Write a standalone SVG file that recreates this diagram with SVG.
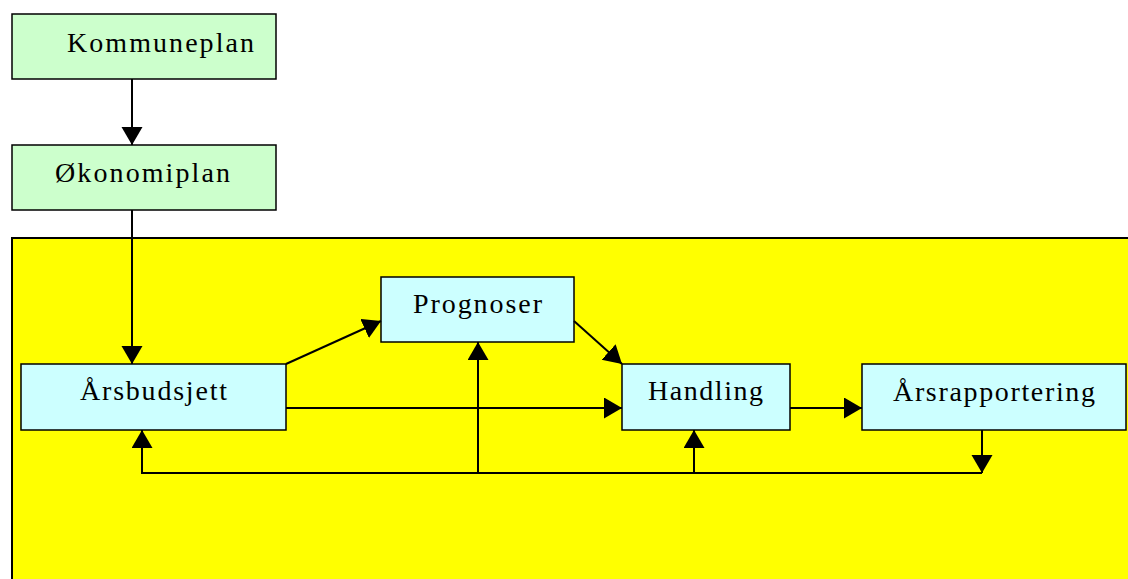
<svg xmlns="http://www.w3.org/2000/svg" width="1128" height="579" viewBox="0 0 1128 579">
  <style>
    .plan { fill: #ccffcc; stroke: #000; stroke-width: 1.5; }
    .step { fill: #ccffff; stroke: #000; stroke-width: 1.5; }
    .label { font-family: "Liberation Serif", "Times New Roman", serif; font-size: 28px; fill: #000; }
    .link { fill: none; stroke: #000; stroke-width: 2; }
  </style>
  <defs>
    <marker id="head" markerUnits="userSpaceOnUse" markerWidth="20" markerHeight="22" refX="18" refY="10.5" orient="auto">
      <path d="M0,0 L18,10.5 L0,21 Z" fill="#000"/>
    </marker>
  </defs>
  <rect x="0" y="0" width="1128" height="579" fill="#fff"/>

  <!-- budget year frame -->
  <rect id="frame" x="12" y="238" width="1130" height="350" fill="#ffff00" stroke="#000" stroke-width="2"/>

  <g id="kommuneplan">
    <rect class="plan" x="12" y="14" width="264" height="65"/>
    <text class="label" x="67" y="52" textLength="187" lengthAdjust="spacing">Kommuneplan</text>
  </g>
  <g id="okonomiplan">
    <rect class="plan" x="12" y="145" width="264" height="65"/>
    <text class="label" x="55" y="182" textLength="175" lengthAdjust="spacing">Økonomiplan</text>
  </g>
  <g id="arsbudsjett">
    <rect class="step" x="21" y="364" width="265" height="66"/>
    <text class="label" x="80" y="400" textLength="147" lengthAdjust="spacing">Årsbudsjett</text>
  </g>
  <g id="prognoser">
    <rect class="step" x="381" y="277" width="193" height="65"/>
    <text class="label" x="413" y="313" textLength="129" lengthAdjust="spacing">Prognoser</text>
  </g>
  <g id="handling">
    <rect class="step" x="622" y="364" width="168" height="66"/>
    <text class="label" x="648" y="400" textLength="115" lengthAdjust="spacing">Handling</text>
  </g>
  <g id="arsrapportering">
    <rect class="step" x="862" y="364" width="264" height="66"/>
    <text class="label" x="893" y="401" textLength="202" lengthAdjust="spacing">Årsrapportering</text>
  </g>

  <g id="connectors">
    <line class="link" x1="132" y1="79" x2="132" y2="145" marker-end="url(#head)"/>
    <line class="link" x1="132" y1="210" x2="132" y2="364" marker-end="url(#head)"/>
    <line class="link" x1="286" y1="364" x2="381" y2="321" marker-end="url(#head)"/>
    <line class="link" x1="574" y1="321" x2="622" y2="364" marker-end="url(#head)"/>
    <line class="link" x1="286" y1="408" x2="622" y2="408" marker-end="url(#head)"/>
    <line class="link" x1="790" y1="408" x2="862" y2="408" marker-end="url(#head)"/>
    <line class="link" x1="982" y1="430" x2="982" y2="473" marker-end="url(#head)"/>
    <line class="link" x1="982" y1="473" x2="141" y2="473"/>
    <line class="link" x1="142" y1="474" x2="142" y2="430" marker-end="url(#head)"/>
    <line class="link" x1="478" y1="473" x2="478" y2="342" marker-end="url(#head)"/>
    <line class="link" x1="694" y1="473" x2="694" y2="430" marker-end="url(#head)"/>
  </g>
</svg>
